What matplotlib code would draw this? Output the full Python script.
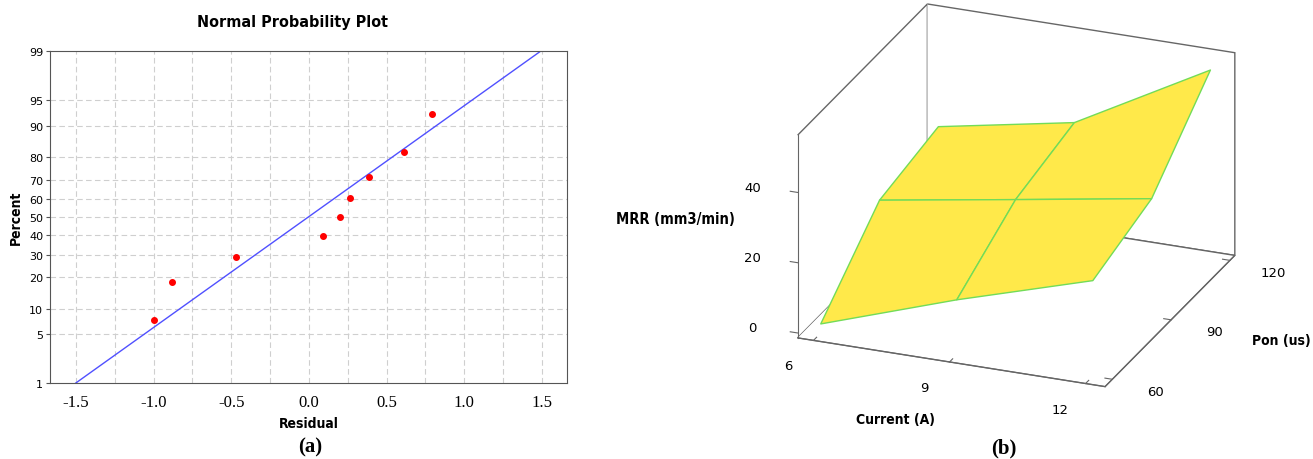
import numpy as np
import matplotlib
matplotlib.use("Agg")
import matplotlib.pyplot as plt
from mpl_toolkits.mplot3d import proj3d
from statistics import NormalDist

# Daten: Normalwahrscheinlichkeitsplot der Residuen
residuals = [-1.0, -0.88, -0.47, 0.09, 0.20, 0.265, 0.385, 0.61, 0.79]
percents = [7.4, 18.1, 28.7, 39.4, 50.0, 60.6, 71.3, 81.9, 92.6]
fit_mean = -0.005
fit_sd = 0.643
prob_ticks = [1, 5, 10, 20, 30, 40, 50, 60, 70, 80, 90, 95, 99]
resid_ticks = [-1.5, -1.0, -0.5, 0.0, 0.5, 1.0, 1.5]
resid_grid = [-1.5, -1.25, -1.0, -0.75, -0.5, -0.25, 0.0, 0.25, 0.5, 0.75, 1.0, 1.25, 1.5]

# Daten: Antwortflaeche MRR
current = [6, 9, 12]
pon = [60, 90, 120]
mrr = [[1.2, 14.2, 25.8],     # Pon = 60
       [19.5, 25.8, 32.2],    # Pon = 90
       [23.5, 30.8, 51.9]]    # Pon = 120
current_ticks = [6, 9, 12]
pon_ticks = [60, 90, 120]
mrr_ticks = [0, 20, 40]
xlim3 = (5.65, 12.43)
ylim3 = (56.3, 122.5)
zlim3 = (-1.4, 56.3)

nd = NormalDist()
def zscore(p):
    return np.array([nd.inv_cdf(v / 100.0) for v in p])

fig = plt.figure(figsize=(13.13, 4.6), dpi=100)

# ---------- (a) Normal Probability Plot ----------
ax1 = fig.add_axes([0.0381, 0.1652, 0.3935, 0.7211])
ax1.set_xlim(-1.667, 1.66)
ax1.set_ylim(nd.inv_cdf(0.01), nd.inv_cdf(0.99))
for g in resid_grid:
    ax1.axvline(g, color="#cfcfcf", lw=0.8, ls=(0, (5, 3)), zorder=0)
for t in prob_ticks[1:-1]:
    ax1.axhline(nd.inv_cdf(t / 100.0), color="#cfcfcf", lw=0.8, ls=(0, (5, 3)), zorder=0)

z_line = np.array([nd.inv_cdf(0.01), nd.inv_cdf(0.99)])
ax1.plot(fit_mean + fit_sd * z_line, z_line, color="#5050ff", lw=1.0, zorder=2)
ax1.plot(residuals, zscore(percents), "o", color="#ff0000", ms=4.0, zorder=3)

ax1.set_yticks(zscore(prob_ticks))
ax1.set_yticklabels([str(t) for t in prob_ticks], fontsize=8, family="DejaVu Sans")
ax1.set_xticks(resid_ticks)
ax1.set_xticklabels([f"{t:.1f}" for t in resid_ticks], fontsize=12, family="Liberation Serif")
ax1.tick_params(axis="y", length=3, pad=2, color="#555555")
ax1.tick_params(axis="x", length=0, pad=8)
for s in ax1.spines.values():
    s.set_color("#555555")
ax1.text(0.47, 1.09, "Normal Probability Plot", transform=ax1.transAxes,
         fontsize=11.5, fontweight="bold", fontstretch="condensed", ha="center", va="center")
ax1.set_xlabel("Residual", fontsize=10, fontweight="bold", fontstretch="condensed", labelpad=4)
ax1.set_ylabel("Percent", fontsize=10, fontweight="bold", fontstretch="condensed", labelpad=4)

# ---------- (b) Antwortflaeche ----------
ax2 = fig.add_axes([0.5393, -0.0965, 0.457, 1.3043], projection="3d", proj_type="ortho")
X, Y = np.meshgrid(current, pon)
ax2.plot_surface(X, Y, np.array(mrr), color="#ffe94a", edgecolor="#72dc58",
                 linewidth=1.0, shade=False, antialiased=True)
ax2.set_xlim(*xlim3)
ax2.set_ylim(*ylim3)
ax2.set_zlim(*zlim3)
ax2.set_box_aspect((1, 1.066, 0.669), zoom=0.86)
ax2.view_init(elev=23.6, azim=-68.4)
ax2.grid(False)
ax2.set_xticks(current_ticks)
ax2.set_yticks(pon_ticks)
ax2.set_zticks(mrr_ticks)
for axis in (ax2.xaxis, ax2.yaxis, ax2.zaxis):
    axis.set_pane_color((1, 1, 1, 1))
    axis.pane.set_edgecolor("#666666")
    axis.line.set_color("#666666")
    axis._axinfo["tick"]["inward_factor"] = 0.0
    axis._axinfo["tick"]["outward_factor"] = 0.3
    axis.set_tick_params(label1On=False, color="#666666")
    axis.label.set_visible(False)
ax2.zaxis.set_ticks_position("lower")
if hasattr(ax2.zaxis, "_get_tickdir"):
    ax2.zaxis._get_tickdir = lambda position: 0

# Tick-Beschriftungen: 3D-Punkt projizieren, dann als 2D-Text setzen
M = ax2.get_proj()
def label3d(x, y, z, s):
    px, py, _ = proj3d.proj_transform(x, y, z, M)
    ax2.text2D(px, py, s, transform=ax2.transData, fontsize=9.5, ha="center", va="center")

for c in current_ticks:
    label3d(c, ylim3[0] - 12.9, zlim3[0], str(c))
for p in pon_ticks:
    label3d(xlim3[1] + 1.05, p - 2.2, zlim3[0], str(p))
for m in mrr_ticks:
    label3d(xlim3[0] - 0.95, ylim3[0] - 0.93, m, str(m))

fig.text(675 / 1313, 1 - 220 / 460, "MRR (mm3/min)", fontsize=10.5, fontweight="bold",
         fontstretch="condensed", ha="center", va="center")
fig.text(896 / 1313, 1 - 420 / 460, "Current (A)", fontsize=10, fontweight="bold",
         fontstretch="condensed", ha="center", va="center")
fig.text(1281 / 1313, 1 - 341 / 460, "Pon (us)", fontsize=10, fontweight="bold",
         fontstretch="condensed", ha="center", va="center")

fig.text(310 / 1313, 1 - 447 / 460, "(a)", fontsize=15, fontweight="bold", family="Liberation Serif", ha="center", va="center")
fig.text(1004 / 1313, 1 - 448 / 460, "(b)", fontsize=15, fontweight="bold", family="Liberation Serif", ha="center", va="center")

fig.savefig("out.png", dpi=100)
